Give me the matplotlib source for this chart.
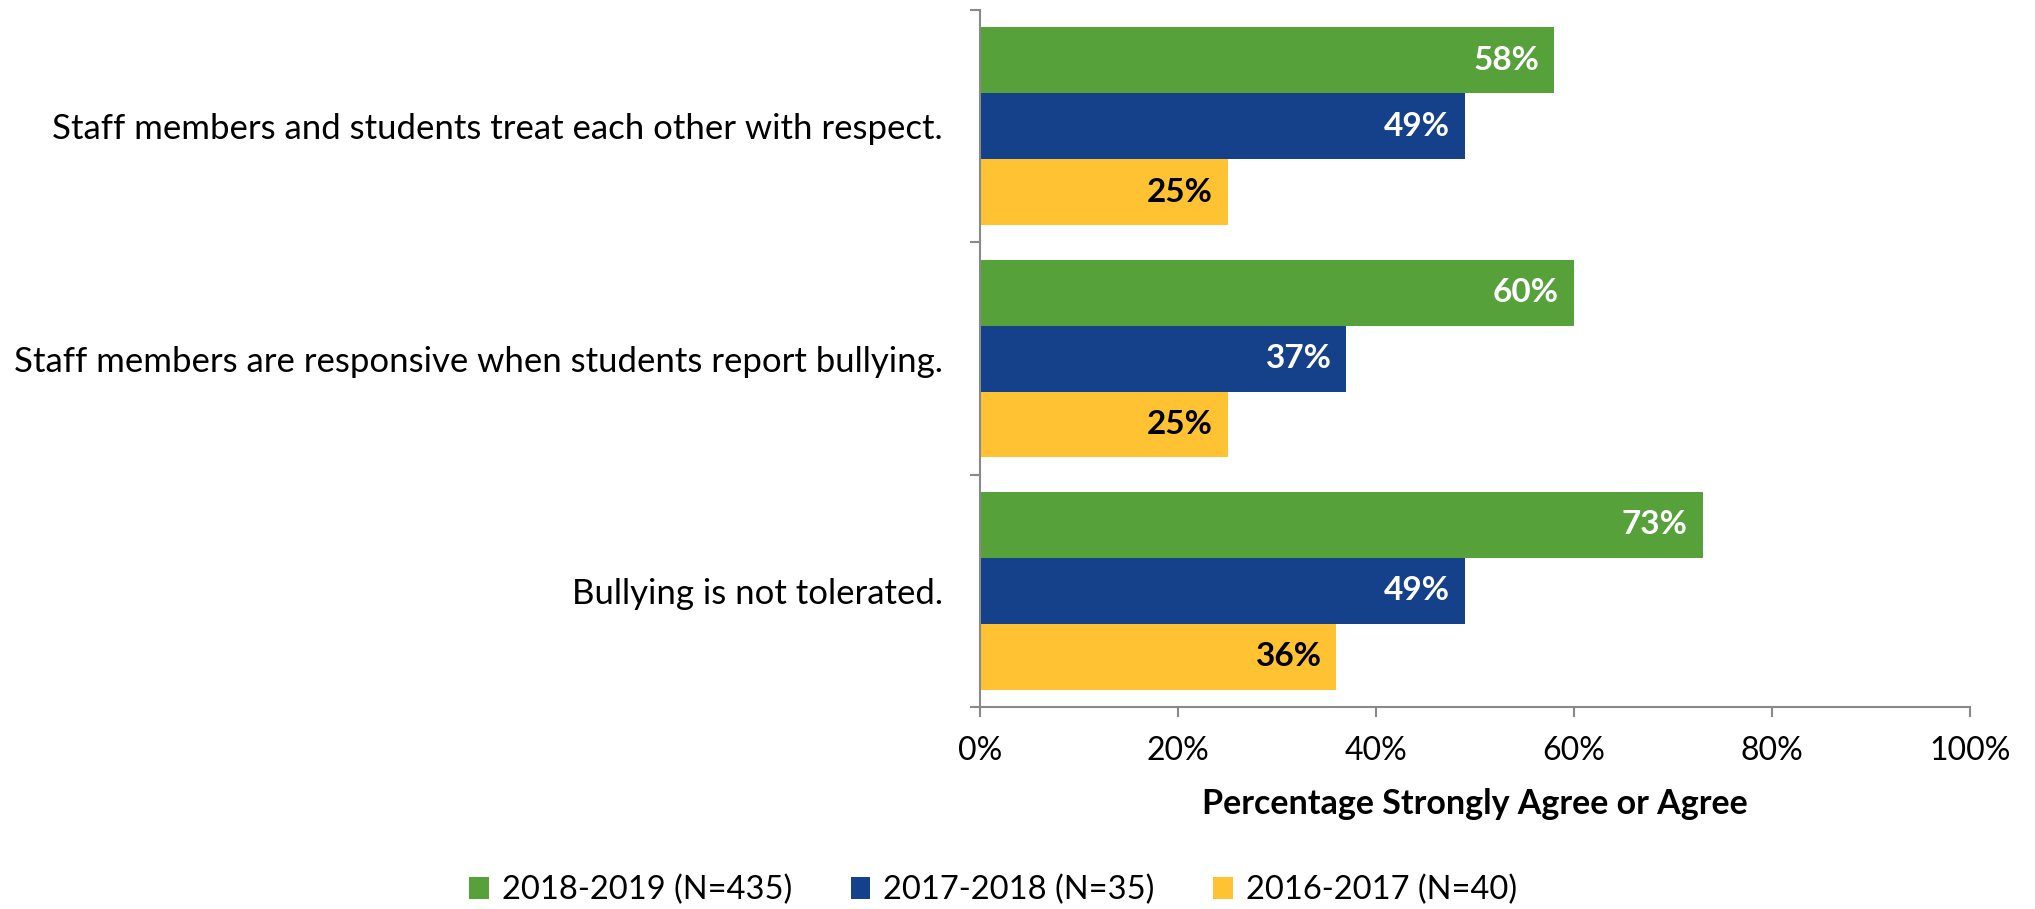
import numpy as np
import matplotlib.pyplot as plt
from matplotlib.patches import Patch

plt.rcParams['font.family'] = ['Lato', 'DejaVu Sans']

# data, top to bottom
statements = ["Staff members and students treat each other with respect.",
              "Staff members are responsive when students report bullying.",
              "Bullying is not tolerated."]
years = ["2018-2019 (N=435)", "2017-2018 (N=35)", "2016-2017 (N=40)"]
pct_1819 = [58, 60, 73]
pct_1718 = [49, 37, 49]
pct_1617 = [25, 25, 36]

colors = ['#56A13A', '#14418A', '#FFC232']
label_colors = ['white', 'white', 'black']

fig = plt.figure(figsize=(20.35, 9.09), dpi=100)
ax = fig.add_axes([0.4816, 0.2222, 0.968 - 0.4816, 0.989 - 0.2222])

n = len(statements)
bar_h = 0.284
series = [pct_1819, pct_1718, pct_1617]
centers = np.arange(n)  # 0 at top after inversion
for k, vals in enumerate(series):
    y = centers + (k - 1) * bar_h
    bars = ax.barh(y, vals, height=bar_h, color=colors[k], edgecolor='none')
    for b, v in zip(bars, vals):
        ax.text(v - 1.5, b.get_y() + b.get_height() / 2, f"{v}%",
                ha='right', va='center', fontsize=24, fontweight='bold',
                color=label_colors[k])

ax.set_xlim(0, 100)
ax.set_ylim(n - 0.5, -0.5)
ax.set_xticks(np.arange(0, 101, 20))
ax.set_xticklabels([f"{t}%" for t in range(0, 101, 20)], fontsize=23)
ax.set_yticks(centers)
ax.set_yticklabels(statements, fontsize=25)
ax.set_yticks(np.arange(-0.5, n, 1), minor=True)
ax.tick_params(axis='y', which='major', length=0, pad=27)
ax.tick_params(axis='y', which='minor', length=7, color='#898989', width=1.5)
ax.tick_params(axis='x', length=7, color='#898989', width=1.5, pad=14)

for s in ['top', 'right']:
    ax.spines[s].set_visible(False)
for s in ['left', 'bottom']:
    ax.spines[s].set_color('#898989')
    ax.spines[s].set_linewidth(1.5)

ax.set_xlabel("Percentage Strongly Agree or Agree", fontsize=24.5,
              fontweight='bold', labelpad=16)

handles = [Patch(facecolor=c, edgecolor='none') for c in colors]
fig.legend(handles, years, loc='center', bbox_to_anchor=(0.488, 0.021),
           ncol=3, frameon=False, fontsize=23.5, handlelength=0.6,
           handleheight=0.65, handletextpad=0.4, columnspacing=1.8)

fig.savefig('out.png', dpi=100)
